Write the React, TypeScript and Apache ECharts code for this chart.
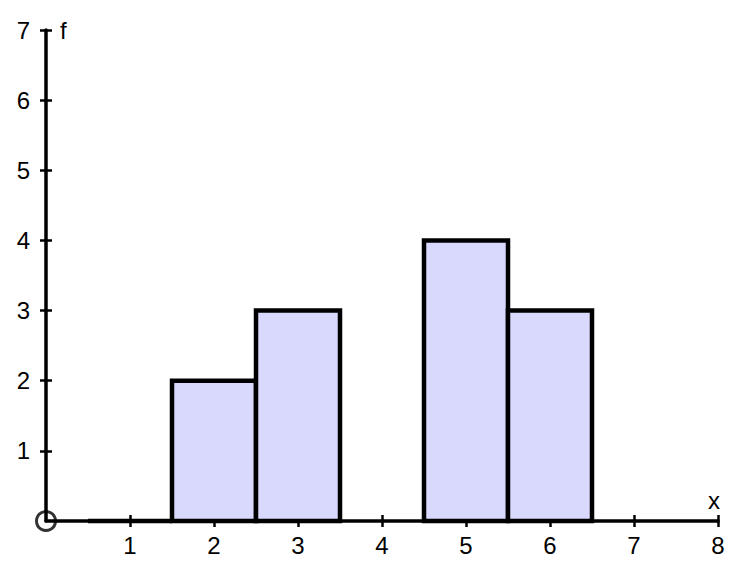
import React, { useEffect, useRef } from "react";
import * as echarts from "echarts";

const xValues = [1, 2, 3, 5, 6];
const frequencies = [0, 2, 3, 4, 3];
const xTicks = [1, 2, 3, 4, 5, 6, 7, 8];
const yTicks = [1, 2, 3, 4, 5, 6, 7];

const FONT = "Arial, 'Liberation Sans', sans-serif";
const FONT_SIZE = 24;

export default function App() {
  const ref = useRef<HTMLDivElement>(null);
  useEffect(() => {
    document.body.style.margin = "0";
    const chart = echarts.init(ref.current!, null, { renderer: "svg" });
    const axisLabelBase = { color: "#000", fontSize: FONT_SIZE, fontFamily: FONT };
    const option = {
      animation: false,
      backgroundColor: "#fff",
      textStyle: { fontFamily: FONT, fontSize: FONT_SIZE },
      grid: { left: 46, right: 25, top: 30, bottom: 58 },
      xAxis: [
        {
          type: "value", min: 0, max: 8, interval: 1, position: "bottom",
          name: "x", nameLocation: "end", nameGap: -4,
          nameTextStyle: { color: "#000", fontSize: FONT_SIZE, fontFamily: FONT, align: "center", verticalAlign: "bottom", padding: [0, 0, 9, 0] },
          axisLine: { show: true, onZero: false, lineStyle: { color: "#000", width: 3.5 } },
          axisTick: { show: true, inside: false, length: 6, lineStyle: { color: "#000", width: 2.5 }, customValues: xTicks },
          axisLabel: { ...axisLabelBase, margin: 12, customValues: xTicks },
          splitLine: { show: false },
        },
        {
          type: "value", min: 0, max: 8, interval: 1, position: "bottom",
          axisLine: { show: false, onZero: false },
          axisTick: { show: true, inside: true, length: 6, lineStyle: { color: "#000", width: 2.5 }, customValues: xTicks },
          axisLabel: { show: false },
          splitLine: { show: false },
        },
      ],
      yAxis: [
        {
          type: "value", min: 0, max: 7, interval: 1, position: "left",
          name: "f", nameLocation: "end", nameGap: 0,
          nameTextStyle: { color: "#000", fontSize: FONT_SIZE, fontFamily: FONT, align: "left", verticalAlign: "middle", padding: [0, 0, 0, 14] },
          axisLine: { show: true, onZero: false, lineStyle: { color: "#000", width: 3.5 } },
          axisTick: { show: true, inside: false, length: 6, lineStyle: { color: "#000", width: 2.5 }, customValues: yTicks },
          axisLabel: { ...axisLabelBase, margin: 16, customValues: yTicks },
          splitLine: { show: false },
        },
        {
          type: "value", min: 0, max: 7, interval: 1, position: "left",
          axisLine: { show: false, onZero: false },
          axisTick: { show: true, inside: true, length: 6, lineStyle: { color: "#000", width: 2.5 }, customValues: yTicks },
          axisLabel: { show: false },
          splitLine: { show: false },
        },
      ],
      series: [
        {
          type: "custom",
          xAxisIndex: 0,
          yAxisIndex: 0,
          data: xValues.map((x, i) => [x, frequencies[i]]),
          z: 3,
          renderItem: (_params: any, api: any) => {
            const x = api.value(0);
            const y = api.value(1);
            const p0 = api.coord([x - 0.5, 0]);
            const p1 = api.coord([x + 0.5, y]);
            return {
              type: "polygon",
              shape: { points: [[p0[0], p0[1]], [p0[0], p1[1]], [p1[0], p1[1]], [p1[0], p0[1]]] },
              style: { fill: "#d9d9fe", stroke: "#000", lineWidth: 4.5, lineJoin: "miter" },
            };
          },
        },
        {
          type: "scatter",
          xAxisIndex: 0,
          yAxisIndex: 0,
          data: [[0, 0]],
          symbol: "circle",
          symbolSize: 19,
          z: 5,
          itemStyle: { color: "rgba(0,0,0,0)", borderColor: "#000", borderWidth: 3 },
          silent: true,
        },
      ],
    };
    chart.setOption(option as any);
    return () => chart.dispose();
  }, []);
  return <div ref={ref} style={{ width: 743, height: 579 }} />;
}
